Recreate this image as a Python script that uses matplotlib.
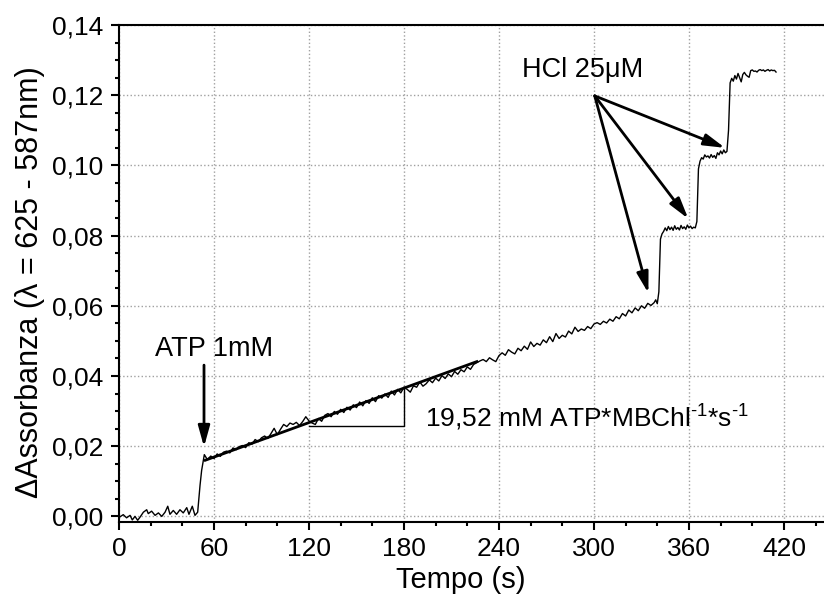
import matplotlib
matplotlib.use("Agg")
import matplotlib.pyplot as plt
from matplotlib.ticker import MultipleLocator, FuncFormatter

plt.rcParams['font.family'] = ['Liberation Sans', 'DejaVu Sans']
plt.rcParams['mathtext.fontset'] = 'custom'
plt.rcParams['mathtext.rm'] = 'Liberation Sans'
plt.rcParams['mathtext.it'] = 'Liberation Sans:italic'

# ---------------------------------------------------------------
# data
# ---------------------------------------------------------------
t_base = [0, 2.7, 4.8, 7.0, 8.4, 10.1, 11.8, 13.3, 15.4, 17.5, 18.5, 20.6,
          22.8, 24.9, 27.0, 29.1, 30.8, 32.2, 34.3, 36.4, 38.5, 40.6, 42.8,
          44.2, 46.3, 48.0, 49.7, 51.2, 52.2, 53.9, 55.4]
a_base = [-0.0003, 0.0005, -0.0004, 0.0003, -0.0010, 0.0000, -0.0011, -0.0002,
          0.0012, 0.0019, 0.0008, 0.0015, 0.0003, 0.0010, 0.0000, 0.0012,
          0.0029, 0.0006, 0.0017, 0.0006, 0.0019, 0.0010, 0.0025, 0.0006,
          0.0029, 0.0003, 0.0012, 0.0089, 0.0131, 0.0176, 0.0165]

t_rise = [56, 58, 60, 62, 64, 66, 68, 70, 72, 74, 76, 78, 80, 82, 84, 86, 88,
          90, 92, 94, 96, 98, 100, 102, 104, 106, 108, 110, 112, 114, 116, 118,
          120, 122, 124, 126, 128, 130, 132, 134, 136, 138, 140, 142, 144, 146,
          148, 150, 152, 154, 156, 158, 160, 162, 164, 166, 168, 170, 172, 174,
          176, 178, 180, 182, 184, 186, 188, 190, 192, 194, 196, 198, 200, 202,
          204, 206, 208, 210, 212, 214, 216, 218, 220, 222, 224, 226]
a_rise = [0.0163, 0.0172, 0.0165, 0.0178, 0.0171, 0.0183, 0.0186, 0.0181,
          0.0195, 0.0190, 0.0199, 0.0202, 0.0196, 0.0210, 0.0206, 0.0219,
          0.0213, 0.0224, 0.0229, 0.0222, 0.0236, 0.0251, 0.0233, 0.0248,
          0.0262, 0.0256, 0.0266, 0.0262, 0.0268, 0.0259, 0.0270, 0.0284,
          0.0272, 0.0266, 0.0262, 0.0279, 0.0271, 0.0288, 0.0293, 0.0284,
          0.0299, 0.0291, 0.0305, 0.0296, 0.0311, 0.0303, 0.0318, 0.0310,
          0.0326, 0.0315, 0.0330, 0.0322, 0.0338, 0.0327, 0.0344, 0.0337,
          0.0349, 0.0339, 0.0357, 0.0346, 0.0362, 0.0352, 0.0368, 0.0362,
          0.0354, 0.0372, 0.0368, 0.0383, 0.0371, 0.0378, 0.0389, 0.0381,
          0.0394, 0.0386, 0.0401, 0.0393, 0.0406, 0.0398, 0.0413, 0.0405,
          0.0418, 0.0412, 0.0426, 0.0419, 0.0433, 0.0438]

t_slow = [228, 230, 232, 234, 236, 238, 240, 242, 244, 246, 248, 250, 252,
          254, 256, 258, 260, 262, 264, 266, 268, 270, 272, 274, 276, 278,
          280, 282, 284, 286, 288, 290, 292, 294, 296, 298, 300, 302, 304,
          306, 308, 310, 312, 314, 316, 318, 320, 322, 324, 326, 328, 330,
          332, 334, 336, 338, 339, 340]
a_slow = [0.0443, 0.0447, 0.0441, 0.0452, 0.0446, 0.0441, 0.0458, 0.0466,
          0.0459, 0.0475, 0.0468, 0.0463, 0.0479, 0.0472, 0.0485, 0.0476,
          0.0497, 0.0484, 0.0493, 0.0488, 0.0503, 0.0495, 0.0512, 0.0498,
          0.0521, 0.0507, 0.0516, 0.0511, 0.0528, 0.0520, 0.0539, 0.0527,
          0.0534, 0.0530, 0.0541, 0.0535, 0.0548, 0.0552, 0.0547, 0.0556,
          0.0551, 0.0562, 0.0556, 0.0569, 0.0563, 0.0578, 0.0571, 0.0588,
          0.0580, 0.0594, 0.0586, 0.0600, 0.0593, 0.0607, 0.0601, 0.0609,
          0.0617, 0.0606]

t_hcl = [341, 342, 343, 344, 345, 346, 347, 348, 349, 350, 351, 352, 353, 354,
         355, 356, 357, 358, 359, 360, 361, 362, 363, 364, 365, 366, 367, 368,
         369, 370, 371, 372, 373, 374, 375, 376, 377, 378, 379, 380, 381, 382,
         383, 384, 385, 386, 387, 388, 389, 390, 391, 392, 393, 394, 395, 396,
         397, 398, 399, 400, 401, 402, 403, 404, 405, 406, 407, 408, 409, 410,
         411, 412, 413, 414, 415]
a_hcl = [0.0640, 0.0790, 0.0805, 0.0812, 0.0822, 0.0814, 0.0826, 0.0817,
         0.0824, 0.0815, 0.0828, 0.0818, 0.0823, 0.0816, 0.0829, 0.0820,
         0.0825, 0.0818, 0.0830, 0.0822, 0.0827, 0.0820, 0.0824, 0.0822,
         0.0840, 0.0990, 0.1012, 0.1022, 0.1018, 0.1030, 0.1024, 0.1027,
         0.1021, 0.1031, 0.1023, 0.1028, 0.1020, 0.1036, 0.1030, 0.1041,
         0.1033, 0.1044, 0.1036, 0.1040, 0.1100, 0.1235, 0.1248, 0.1240,
         0.1256, 0.1246, 0.1262, 0.1250, 0.1238, 0.1259, 0.1265, 0.1258,
         0.1254, 0.1251, 0.1270, 0.1272, 0.1268, 0.1269, 0.1266, 0.1271,
         0.1273, 0.1270, 0.1272, 0.1268, 0.1271, 0.1273, 0.1269, 0.1272,
         0.1270, 0.1271, 0.1266]

tempo = t_base + t_rise + t_slow + t_hcl
assorb = a_base + a_rise + a_slow + a_hcl

# linear fit and slope triangle
fit_t = [54.5, 226]
fit_a = [0.0160, 0.0441]
tri_t = [120, 180, 180]
tri_a = [0.0257, 0.0257, 0.0368]

# HCl arrow tips
hcl_tail = (300.5, 0.1198)
hcl_tips = [(334.4, 0.0636), (359.6, 0.0848), (382.8, 0.1050)]

# ---------------------------------------------------------------
# figure
# ---------------------------------------------------------------
fig = plt.figure(figsize=(8.24, 6.01), dpi=100)
ax = fig.add_axes([0.1444, 0.1314, 0.8556, 0.827])

ax.plot(tempo, assorb, color='black', lw=1.0)
ax.plot(fit_t, fit_a, color='black', lw=2.0)
ax.plot(tri_t, tri_a, color='black', lw=1.0)

ax.set_xlim(0, 445.3)
ax.set_ylim(-0.0016, 0.14)

ax.xaxis.set_major_locator(MultipleLocator(60))
ax.xaxis.set_minor_locator(MultipleLocator(20))
ax.yaxis.set_major_locator(MultipleLocator(0.02))
ax.yaxis.set_minor_locator(MultipleLocator(0.005))
ax.yaxis.set_major_formatter(FuncFormatter(lambda v, p: f"{abs(v):.2f}".replace('.', ',')))

ax.tick_params(which='major', direction='out', length=6, width=1.5,
               labelsize=19, pad=5)
ax.tick_params(which='minor', direction='out', length=3, width=1.5)
ax.tick_params(top=False, right=False)

for s in ['left', 'bottom', 'top']:
    ax.spines[s].set_linewidth(1.5)
ax.spines['right'].set_visible(False)

ax.grid(True, which='major', linestyle=':', color='#a0a0a0', lw=1.0)
ax.set_axisbelow(True)

ax.set_xlabel('Tempo (s)', fontsize=21)
ax.set_ylabel('ΔAssorbanza (λ = 625 - 587nm)', fontsize=22)
ax.xaxis.set_label_coords(0.485, -0.088)
ax.yaxis.set_label_coords(-0.105, 0.483)

# annotations
ax.annotate('', xy=(53.7, 0.0198), xytext=(53.7, 0.0431),
            arrowprops=dict(arrowstyle='-|>,head_length=0.9,head_width=0.25',
                            color='black', lw=2, mutation_scale=14,
                            shrinkA=0, shrinkB=0))
ax.text(60, 0.0457, 'ATP 1mM', ha='center', va='baseline', fontsize=19.5)

for tip in hcl_tips:
    ax.annotate('', xy=tip, xytext=hcl_tail,
                arrowprops=dict(arrowstyle='-|>,head_length=0.9,head_width=0.25',
                                color='black', lw=2, mutation_scale=14,
                                shrinkA=0, shrinkB=0))
ax.text(293, 0.1251, 'HCl 25μM', ha='center', va='baseline', fontsize=19.5)

ax.text(193.3, 0.0255, r'19,52 mM ATP*MBChl$^{\text{-1}}$*s$^{\text{-1}}$',
        ha='left', va='baseline', fontsize=19)

fig.savefig('out.png', dpi=100)
